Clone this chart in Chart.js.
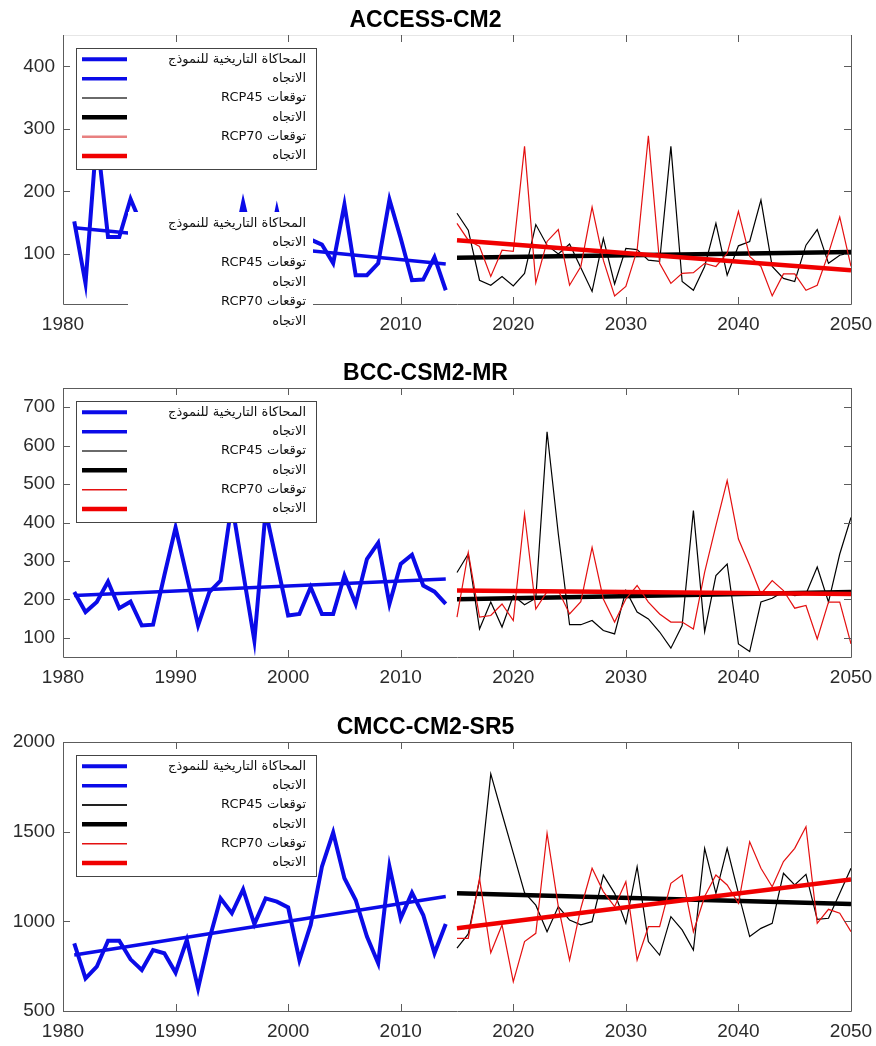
<!DOCTYPE html>
<html>
<head>
<meta charset="utf-8">
<script src="https://cdn.jsdelivr.net/npm/chart.js@4.4.1/dist/chart.umd.min.js"></script>
<style>
    html, body { margin: 0; padding: 0; background: #fff; }
    .panel { position: absolute; left: 0; }
</style>
</head>
<body>
<div class="panel" style="top:0px"><canvas id="chartAccess" width="876" height="353"></canvas></div>
<div class="panel" style="top:353px"><canvas id="chartBcc" width="876" height="354"></canvas></div>
<div class="panel" style="top:707px"><canvas id="chartCmcc" width="876" height="339"></canvas></div>
<script>
const histYears = [1981, 1982, 1983, 1984, 1985, 1986, 1987, 1988, 1989, 1990, 1991, 1992, 1993, 1994, 1995, 1996, 1997,
    1998, 1999, 2000, 2001, 2002, 2003, 2004, 2005, 2006, 2007, 2008, 2009, 2010, 2011, 2012, 2013, 2014];
const projYears = [2015, 2016, 2017, 2018, 2019, 2020, 2021, 2022, 2023, 2024, 2025, 2026, 2027, 2028, 2029, 2030, 2031, 2032,
    2033, 2034, 2035, 2036, 2037, 2038, 2039, 2040, 2041, 2042, 2043, 2044, 2045, 2046, 2047, 2048, 2049, 2050];
const histTrendYears = [1981, 2014];
const projTrendYears = [2015, 2050];
const xTicks = [1980, 1990, 2000, 2010, 2020, 2030, 2040, 2050];

const legendLabels = [
    'المحاكاة التاريخية للنموذج',
    'الاتجاه',
    'توقعات RCP45',
    'الاتجاه',
    'توقعات RCP70',
    'الاتجاه'
];

// ACCESS-CM2
const accessHist = [152, 53, 290, 127, 127, 188, 145, 100, 130, 85, 150, 110, 75, 120, 95, 182, 105,
    80, 170, 90, 70, 123, 115, 85, 179, 66, 66, 85, 187, 125, 58, 59, 95, 42];
const accessRcp45 = [165, 138, 58, 50, 64, 49, 69, 147, 114, 100, 116, 78, 40, 125, 52, 109, 107, 90,
    88, 272, 56, 42, 80, 149, 66, 113, 120, 186, 80, 61, 56, 114, 139, 85, 98, 102];
const accessRcp70 = [149, 122, 112, 64, 106, 104, 272, 54, 120, 139, 50, 80, 175, 90, 33, 48, 106, 289,
    85, 53, 69, 70, 85, 80, 101, 168, 96, 80, 33, 68, 68, 42, 50, 101, 159, 80];
const accessHistTrend = [142, 84];
const accessRcp45Trend = [94, 103];
const accessRcp70Trend = [122, 74];
const accessYTicks = [100, 200, 300, 400];

// BCC-CSM2-MR
const bccHist = [219, 167, 193, 246, 177, 194, 132, 134, 262, 387, 260, 132, 219, 249, 450, 270, 93,
    430, 294, 158, 162, 232, 162, 162, 262, 188, 305, 347, 188, 292, 316, 236, 220, 188];
const bccRcp45 = [270, 318, 123, 193, 128, 210, 186, 203, 636, 370, 134, 134, 145, 119, 110, 223, 167, 149,
    115, 73, 132, 431, 116, 262, 292, 84, 64, 193, 203, 220, 210, 214, 284, 193, 318, 413];
const bccRcp70 = [154, 322, 154, 158, 188, 145, 422, 175, 220, 223, 162, 194, 335, 201, 141, 201, 236, 193,
    162, 141, 141, 123, 271, 392, 509, 357, 288, 214, 249, 223, 177, 184, 97, 193, 193, 84];
const bccHistTrend = [210, 253];
const bccRcp45Trend = [200, 219];
const bccRcp70Trend = [223, 214];
const bccYTicks = [100, 200, 300, 400, 500, 600, 700];

// CMCC-CM2-SR5
const cmccHist = [877, 682, 747, 892, 892, 788, 729, 840, 822, 714, 896, 626, 900, 1128, 1045, 1178, 985,
    1128, 1110, 1078, 784, 980, 1305, 1495, 1240, 1119, 915, 766, 1305, 1017, 1160, 1035, 822, 985];
const cmccRcp45 = [850, 930, 1230, 1822, 1600, 1380, 1160, 1090, 942, 1082, 1007, 980, 998, 1258, 1156, 989, 1305, 887,
    812, 1026, 952, 840, 1407, 1156, 1407, 1156, 915, 961, 989, 1268, 1203, 1262, 1011, 1017, 1156, 1296];
const cmccRcp70 = [905, 905, 1240, 825, 980, 664, 887, 933, 1491, 1082, 784, 1073, 1296, 1166, 1082, 1221, 784, 970,
    970, 1212, 1258, 942, 1138, 1258, 1203, 1100, 1444, 1296, 1193, 1333, 1407, 1528, 989, 1067, 1045, 942];
const cmccHistTrend = [812, 1138];
const cmccRcp45Trend = [1156, 1097];
const cmccRcp70Trend = [961, 1234];
const cmccYTicks = [500, 1000, 1500, 2000];

const BLUE = '#0b0be8';
const RED = '#f00000';
const FRAME = '#5c5c5c';
const TICK_FONT = { family: '"Liberation Sans", Arial, sans-serif', size: 19 };

const toPoints = (years, values) => years.map((yr, i) => ({ x: yr, y: values[i] }));

// box around the plot with inward ticks, legend block, and an optional
// extra block of legend text on white
const matlabFrame = {
    id: 'matlabFrame',
    afterDraw(chart, args, opts) {
        const ctx = chart.ctx;
        const { left, right, top, bottom } = chart.chartArea;
        const xs = chart.scales.x;
        const ys = chart.scales.y;
        ctx.save();
        ctx.lineWidth = 1;
        ctx.strokeStyle = opts.topColor || FRAME;
        ctx.beginPath();
        ctx.moveTo(left, top + 0.5);
        ctx.lineTo(right, top + 0.5);
        ctx.stroke();

        ctx.strokeStyle = FRAME;
        ctx.beginPath();
        ctx.moveTo(left + 0.5, top);
        ctx.lineTo(left + 0.5, bottom + 0.5);
        ctx.lineTo(right + 0.5, bottom + 0.5);
        ctx.lineTo(right + 0.5, top);
        xs.ticks.forEach(t => {
            const px = Math.round(xs.getPixelForValue(t.value)) + 0.5;
            ctx.moveTo(px, bottom);
            ctx.lineTo(px, bottom - 7);
            ctx.moveTo(px, top);
            ctx.lineTo(px, top + 7);
        });
        ys.ticks.forEach(t => {
            const py = Math.round(ys.getPixelForValue(t.value)) + 0.5;
            ctx.moveTo(left, py);
            ctx.lineTo(left + 7, py);
            ctx.moveTo(right, py);
            ctx.lineTo(right - 7, py);
        });
        ctx.stroke();

        // legend
        const lx = left + 13, ly = top + 13, lw = 240, lh = 121;
        const rowStep = 19.35;
        ctx.fillStyle = '#fff';
        ctx.fillRect(lx, ly, lw, lh);
        ctx.strokeStyle = '#444';
        ctx.strokeRect(lx + 0.5, ly + 0.5, lw, lh);
        ctx.font = '13px "DejaVu Sans", sans-serif';
        ctx.direction = 'rtl';
        ctx.textAlign = 'right';
        ctx.textBaseline = 'middle';
        chart.data.datasets.forEach((ds, i) => {
            const cy = ly + 11.3 + i * rowStep;
            ctx.strokeStyle = ds.swatchColor || ds.borderColor;
            ctx.lineWidth = ds.swatchWidth || ds.borderWidth;
            ctx.beginPath();
            ctx.moveTo(lx + 6, cy);
            ctx.lineTo(lx + 51, cy);
            ctx.stroke();
            ctx.fillStyle = '#111';
            ctx.fillText(ds.label, lx + lw - 10, cy);
        });

        const ov = opts.overlay;
        if (ov) {
            ctx.fillStyle = '#fff';
            ctx.fillRect(ov.x, ov.y, ov.w, ov.h);
            ctx.fillStyle = '#111';
            chart.data.datasets.forEach((ds, i) => {
                ctx.fillText(ds.label, lx + lw - 10, ov.firstRow + i * ov.step);
            });
        }
        ctx.restore();
    }
};

function buildChart(id, title, series, yMin, yMax, yTicks, frameOpts) {
    const canvas = document.getElementById(id);
    const xHeight = canvas.height - 304;
    const datasets = [
        { label: legendLabels[0], data: toPoints(histYears, series.hist), borderColor: BLUE, borderWidth: 4, order: 5 },
        { label: legendLabels[1], data: toPoints(histTrendYears, series.histTrend), borderColor: BLUE, borderWidth: 3.5, order: 4 },
        { label: legendLabels[2], data: toPoints(projYears, series.rcp45), borderColor: '#000', borderWidth: 1.2,
          swatchColor: series.swatch45, swatchWidth: 2, order: 3 },
        { label: legendLabels[3], data: toPoints(projTrendYears, series.rcp45Trend), borderColor: '#000', borderWidth: 4.5, order: 2 },
        { label: legendLabels[4], data: toPoints(projYears, series.rcp70), borderColor: '#e41010', borderWidth: 1.2,
          swatchColor: series.swatch70, swatchWidth: series.swatch70Width, order: 1 },
        { label: legendLabels[5], data: toPoints(projTrendYears, series.rcp70Trend), borderColor: RED, borderWidth: 4.5, order: 0 }
    ];
    datasets.forEach(ds => {
        ds.pointRadius = 0;
        ds.tension = 0;
        ds.fill = false;
    });

    return new Chart(canvas.getContext('2d'), {
        type: 'line',
        data: { datasets },
        plugins: [matlabFrame],
        options: {
            responsive: false,
            animation: false,
            events: [],
            layout: { padding: { left: 0, right: 25, top: 0, bottom: 0 } },
            scales: {
                x: {
                    type: 'linear',
                    min: 1980,
                    max: 2050,
                    afterBuildTicks: scale => { scale.ticks = xTicks.map(v => ({ value: v })); },
                    afterFit: scale => {
                        scale.height = xHeight;
                        scale.paddingLeft = 0;
                        scale.paddingRight = 0;
                    },
                    grid: { display: false, drawTicks: false },
                    border: { display: false },
                    ticks: {
                        font: TICK_FONT,
                        color: '#2b2b2b',
                        padding: 9,
                        maxRotation: 0,
                        callback: v => String(v)
                    }
                },
                y: {
                    min: yMin,
                    max: yMax,
                    afterBuildTicks: scale => { scale.ticks = yTicks.map(v => ({ value: v })); },
                    afterFit: scale => {
                        scale.width = 63;
                        scale.paddingTop = 0;
                        scale.paddingBottom = 0;
                    },
                    grid: { display: false, drawTicks: false },
                    border: { display: false },
                    ticks: {
                        font: TICK_FONT,
                        color: '#2b2b2b',
                        padding: 8,
                        callback: v => String(v)
                    }
                }
            },
            plugins: {
                legend: { display: false },
                tooltip: { enabled: false },
                title: {
                    display: true,
                    text: title,
                    color: '#000',
                    font: { family: '"Liberation Sans", Arial, sans-serif', size: 23, weight: 'bold' },
                    padding: { top: 6.4, bottom: 1 }
                },
                matlabFrame: frameOpts
            }
        }
    });
}

buildChart('chartAccess', 'ACCESS-CM2', {
    hist: accessHist, histTrend: accessHistTrend,
    rcp45: accessRcp45, rcp45Trend: accessRcp45Trend,
    rcp70: accessRcp70, rcp70Trend: accessRcp70Trend,
    swatch45: '#6a6a6a', swatch70: '#e88080', swatch70Width: 2.5
}, 20, 450, accessYTicks, {
    topColor: '#e6e6e6',
    overlay: { x: 128, y: 212, w: 185, h: 126, firstRow: 223.5, step: 19.6 }
});

buildChart('chartBcc', 'BCC-CSM2-MR', {
    hist: bccHist, histTrend: bccHistTrend,
    rcp45: bccRcp45, rcp45Trend: bccRcp45Trend,
    rcp70: bccRcp70, rcp70Trend: bccRcp70Trend,
    swatch45: '#6a6a6a', swatch70: '#e41010', swatch70Width: 1.4
}, 50, 750, bccYTicks, {});

buildChart('chartCmcc', 'CMCC-CM2-SR5', {
    hist: cmccHist, histTrend: cmccHistTrend,
    rcp45: cmccRcp45, rcp45Trend: cmccRcp45Trend,
    rcp70: cmccRcp70, rcp70Trend: cmccRcp70Trend,
    swatch45: '#222', swatch70: '#e41010', swatch70Width: 1.4
}, 500, 2000, cmccYTicks, {});
</script>
</body>
</html>
